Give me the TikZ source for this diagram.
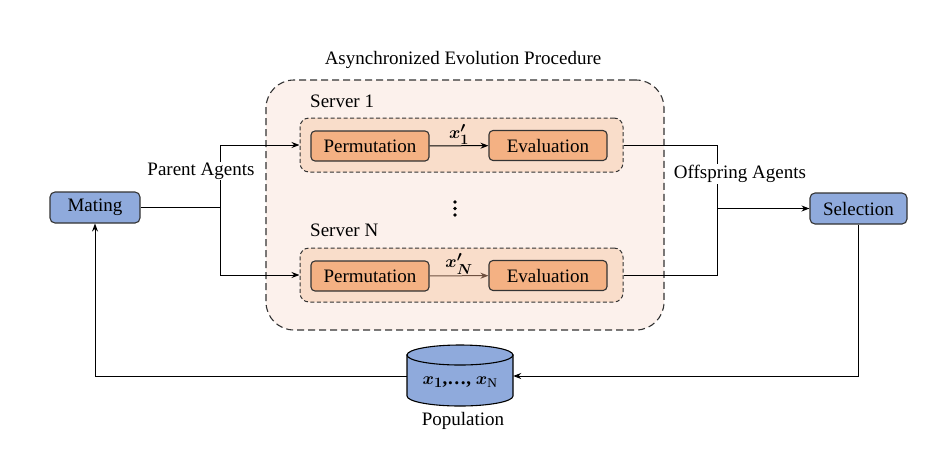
\documentclass[tikz,border=0pt]{standalone}
\usepackage{amsmath,amsbsy}
\usepackage{fontspec}
\setmainfont{Liberation Serif}
\usetikzlibrary{shapes.geometric,arrows.meta}
\definecolor{bluefill}{HTML}{8FAADC}
\definecolor{orangefill}{HTML}{F4B183}
\definecolor{innerfill}{HTML}{F9DDCA}
\definecolor{outerfill}{HTML}{FCF1EC}
\definecolor{edgegray}{HTML}{333333}
\definecolor{brownline}{HTML}{6E5040}
\begin{document}
\begin{tikzpicture}[x=1pt,y=-1pt,
  font=\fontsize{19}{22}\selectfont,
  bluebox/.style={draw=edgegray,fill=bluefill,line width=1.1pt,rounded corners=5pt,inner sep=0pt,minimum height=31pt},
  orangebox/.style={draw=edgegray,fill=orangefill,line width=1.1pt,rounded corners=4pt,inner sep=0pt,minimum width=118pt,minimum height=30pt},
  serverbox/.style={draw=edgegray,fill=innerfill,dash pattern=on 4pt off 2.5pt,line width=1pt,rounded corners=9pt,minimum width=323pt,minimum height=54pt,inner sep=0pt},
  cyl/.style={draw=black,fill=bluefill,line width=1.1pt},
  conn/.style={line width=1pt,draw=black},
  tip/.style={-{Stealth[length=8pt,width=6pt]}},
  lbl/.style={inner sep=1pt}
]
\useasboundingbox (0,0) rectangle (950,467);
% outer procedure box
\node[draw=edgegray,fill=outerfill,dash pattern=on 7pt off 4pt,line width=1.1pt,rounded corners=28pt,minimum width=398pt,minimum height=250pt] (outer) at (465,205) {};
\node[lbl] (title) at (463,60) {Asynchronized Evolution Procedure};
% server boxes
\node[serverbox] (srv1) at (461.5,145) {};
\node[serverbox] (srvN) at (461.5,275) {};
\node[lbl,anchor=west] (s1lbl) at (309,101) {Server 1};
\node[lbl,anchor=west] (sNlbl) at (309,230) {Server N};
\node[orangebox] (perm1) at (370,146) {Permutation};
\node[orangebox] (eval1) at (548,145.5) {Evaluation};
\node[orangebox] (permN) at (370,276) {Permutation};
\node[orangebox] (evalN) at (548,275.5) {Evaluation};
\draw[conn,tip] (perm1) -- node[above=0pt,lbl] (x1) {$\boldsymbol{x'_1}$} (eval1);
\draw[conn,tip,draw=brownline] (permN) -- node[above=0pt,lbl] (xN) {$\boldsymbol{x'_N}$} (evalN);
% dots
\foreach \yy in {202,208.5,215} \fill (455,\yy) circle (1.9pt);
% side nodes
\node[bluebox,minimum width=90pt] (mating) at (95,207.5) {Mating};
\node[bluebox,minimum width=97pt] (selection) at (858.5,208.5) {Selection};
% population cylinder (drawn directly)
\path[cyl] (407,355) -- (407,396) arc[start angle=180,end angle=360,x radius=53pt,y radius=10pt] -- (513,355) -- cycle;
\path[cyl] (460,355) ellipse[x radius=53pt,y radius=10pt];
\node[inner sep=0pt,minimum width=106pt,minimum height=62pt] (pop) at (460,376) {};
\node[inner sep=0pt] (poptext) at (460,382) {$\boldsymbol{x_1}$\textbf{,…,} $\boldsymbol{x}_{\mathrm{N}}$};
\node[lbl] (poplbl) at (463,421) {Population};
% connectors
\coordinate (pa) at (220,207.5);
\coordinate (pa1) at (220,145);
\coordinate (paN) at (220,275);
\draw[conn] (mating.east) -- (pa);
\draw[conn] (pa1) -- (paN);
\draw[conn,tip] (pa1) -- (srv1.west);
\draw[conn,tip] (paN) -- (srvN.west);
\node[lbl,fill=white] (parent) at (201,171) {Parent Agents};
\coordinate (oa1) at (717,145);
\coordinate (oaN) at (717,275);
\coordinate (oa) at (717,208.5);
\draw[conn] (srv1.east) -- (oa1) -- (oaN) -- (srvN.east);
\draw[conn,tip] (oa) -- (selection.west);
\node[lbl,fill=white] (offspring) at (740,174) {Offspring Agents};
\coordinate (sc) at (858.5,376);
\coordinate (mc) at (95,376);
\draw[conn,tip] (selection.south) -- (sc) -- (pop.east |- sc);
\draw[conn,tip] (pop.west |- mc) -- (mc) -- (mating.south);
\end{tikzpicture}
\end{document}
